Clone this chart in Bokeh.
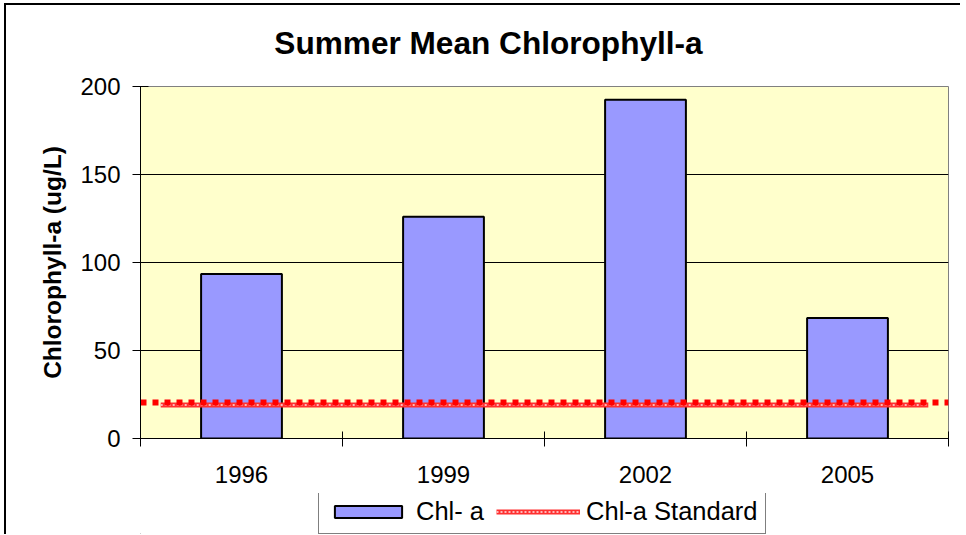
from bokeh.plotting import figure
from bokeh.layouts import column
from bokeh.models import FixedTicker, Legend, LegendItem, Range1d, Label
from bokeh.embed import file_html
from bokeh.resources import INLINE

# ---- data ----
title_text = "Summer Mean Chlorophyll-a"
y_title = "Chlorophyll-a (ug/L)"
years = ["1996", "1999", "2002", "2005"]
chl_a = [93.5, 126, 192.5, 68.5]
chl_a_standard = 19.0      # series "Chl-a Standard"
standard_marker = 20.5     # red dotted reference line
y_ticks = [0, 50, 100, 150, 200]

FONT = "Liberation Sans"
xs = list(range(1, len(years) + 1))
x_lo, x_hi = xs[0] - 0.5, xs[-1] + 0.5

# page offset of the content (margin 4 + border 2 ; margin 3 + border 2)
OX, OY = 6, 5
W = 960 - OX
H_TITLE = 72 - OY
H_MAIN = 493 - 72
H_LEG = 41
LEFT, RIGHT = 140 - OX, 960 - 948

BAR_STYLE = dict(fill_color="#9999FF", line_color="black", line_width=2)
PAT_BASE = dict(line_color="#FF3030", line_width=5)
PAT_OVER = dict(line_color="#FFB8B8", line_width=2, line_dash="2 2")


def strip(height):
    f = figure(width=W, height=height, output_backend="svg", toolbar_location=None,
               x_range=Range1d(0, 1), y_range=Range1d(0, 1),
               x_axis_type=None, y_axis_type=None,
               min_border_left=LEFT, min_border_right=RIGHT,
               min_border_top=0, min_border_bottom=0,
               background_fill_color="white", border_fill_color="white",
               outline_line_color=None)
    f.grid.visible = False
    return f


# ---- title strip ----
t = strip(H_TITLE)
t.add_layout(Label(x=488 - 140, y=H_TITLE - (42 - OY), x_units="screen", y_units="screen",
                   text=title_text, text_font=FONT, text_font_size="31.6px",
                   text_font_style="bold", text_align="center",
                   text_baseline="alphabetic", text_color="black"))

# ---- main chart ----
p = figure(width=W, height=H_MAIN, output_backend="svg", toolbar_location=None,
           x_range=Range1d(x_lo, x_hi), y_range=Range1d(0, 200),
           min_border_left=LEFT, min_border_right=RIGHT, min_border_top=86 - 72,
           min_border_bottom=493 - 438,
           background_fill_color="#FFFFCC", border_fill_color="white",
           outline_line_color="#808080")

p.xgrid.grid_line_color = None
p.ygrid.ticker = FixedTicker(ticks=y_ticks)
p.ygrid.grid_line_color = "black"
p.ygrid.grid_line_width = 1

# y axis
p.yaxis.ticker = FixedTicker(ticks=y_ticks)
p.yaxis.major_tick_in = 8
p.yaxis.major_tick_out = 8
p.yaxis.minor_tick_line_color = None
p.yaxis.axis_line_color = "black"
p.yaxis.major_tick_line_color = "black"
p.yaxis.major_label_text_font = FONT
p.yaxis.major_label_text_font_size = "24px"
p.yaxis.major_label_text_color = "black"
p.yaxis.major_label_standoff = 12
p.yaxis.axis_label = y_title
p.yaxis.axis_label_text_font = FONT
p.yaxis.axis_label_text_font_size = "24.5px"
p.yaxis.axis_label_text_font_style = "bold"
p.yaxis.axis_label_text_color = "black"
p.yaxis.axis_label_standoff = 11

# x axis: labels at centres, ticks at category boundaries
p.xaxis.ticker = FixedTicker(ticks=xs, minor_ticks=[x - 0.5 for x in xs] + [x_hi])
p.xaxis.major_label_overrides = {x: y for x, y in zip(xs, years)}
p.xaxis.major_tick_line_color = None
p.xaxis.major_tick_in = 0
p.xaxis.major_tick_out = 0
p.xaxis.minor_tick_line_color = "black"
p.xaxis.minor_tick_in = 7
p.xaxis.minor_tick_out = 8
p.xaxis.axis_line_color = "black"
p.xaxis.major_label_text_font = FONT
p.xaxis.major_label_text_font_size = "24px"
p.xaxis.major_label_text_color = "black"
p.xaxis.major_label_standoff = 19

p.vbar(x=xs, top=chl_a, bottom=0, width=0.4, **BAR_STYLE)
p.line(x=[xs[0] - 0.4, xs[-1] + 0.4], y=[chl_a_standard] * 2, **PAT_BASE)
p.line(x=[xs[0] - 0.4, xs[-1] + 0.4], y=[chl_a_standard] * 2, **PAT_OVER)
p.line(x=[x_lo, x_hi], y=[standard_marker] * 2, line_color="#FF0000",
       line_width=6, line_dash="6 6")

# ---- legend strip ----
q = strip(H_LEG)
# legend proxies (same styles as the chart series, kept far outside the visible range)
lb = q.vbar(x=[-1000], top=[-1000], bottom=-1001, width=0.4, **BAR_STYLE)
lp1 = q.line(x=[-1000, -999], y=[-1000, -1000], **PAT_BASE)
lp2 = q.line(x=[-1000, -999], y=[-1000, -1000], **PAT_OVER)

legend = Legend(items=[LegendItem(label="Chl- a", renderers=[lb]),
                       LegendItem(label="Chl-a Standard", renderers=[lp1, lp2])],
                location=(318 - 140, 0), orientation="horizontal",
                glyph_width=84, glyph_height=15, label_standoff=6, spacing=12,
                padding=7, margin=0,
                label_text_font=FONT, label_text_font_size="25.5px", label_text_color="black",
                border_line_color="black", border_line_width=1,
                background_fill_color="white", background_fill_alpha=1.0)
q.add_layout(legend, "center")

layout = column(t, p, q, spacing=0,
                styles={"margin-left": "4px", "margin-top": "3px",
                        "border-left": "2px solid black", "border-top": "2px solid black"})

open("out.html", "w").write(file_html(layout, INLINE))
